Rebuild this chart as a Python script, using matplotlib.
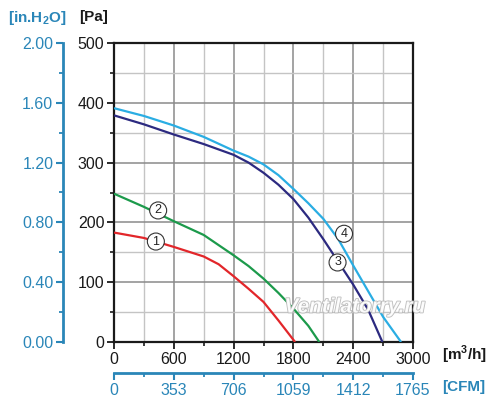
import matplotlib
matplotlib.use("Agg")
import matplotlib.pyplot as plt
import matplotlib.patheffects as pe
from matplotlib.ticker import MultipleLocator, FixedLocator

plt.rcParams['font.family'] = ['Liberation Sans', 'DejaVu Sans']
plt.rcParams['mathtext.fontset'] = 'custom'
plt.rcParams['mathtext.rm'] = 'Liberation Sans'
plt.rcParams['mathtext.bf'] = 'Liberation Sans:bold'

# fan curves: airflow [m3/h] vs static pressure [Pa]
flow_1 = [0, 300, 600, 900, 1050, 1200, 1350, 1500, 1650, 1817]
pres_1 = [183, 174, 159, 143, 130, 110, 89, 67, 36, 0]
flow_2 = [0, 300, 600, 900, 1200, 1350, 1500, 1650, 1800, 1950, 2060]
pres_2 = [248, 226, 202, 179, 145, 127, 106, 82, 56, 27, 0]
flow_3 = [0, 300, 600, 900, 1200, 1350, 1500, 1650, 1800, 1950, 2100, 2250, 2400, 2550, 2693]
pres_3 = [379, 364, 347, 331, 313, 300, 283, 263, 239, 208, 172, 134, 96, 54, 0]
flow_4 = [0, 300, 600, 900, 1200, 1350, 1500, 1650, 1800, 1950, 2100, 2250, 2400, 2550, 2700, 2880]
pres_4 = [391, 378, 362, 343, 320, 310, 297, 279, 256, 232, 206, 172, 128, 85, 42, 0]

curve_labels = ['1', '2', '3', '4']
label_flow = [420, 443, 2243, 2308]
label_pres = [168, 220, 133, 181]

cfm_ticks = [0, 353, 706, 1059, 1412, 1765]
inh2o_ticks = [0.0, 0.4, 0.8, 1.2, 1.6, 2.0]

BLUE = '#2a86b8'
colors = ['#e2262a', '#1c9a4b', '#2c2a80', '#2aade3']

fig = plt.figure(figsize=(5, 4.13), dpi=100)
ax = fig.add_axes([114 / 500, 71 / 413, 299 / 500, 299 / 413])

for fl, pr, c in zip([flow_1, flow_2, flow_3, flow_4],
                     [pres_1, pres_2, pres_3, pres_4], colors):
    ax.plot(fl, pr, color=c, lw=1.6, solid_capstyle='butt', solid_joinstyle='round', zorder=3)

for t, x, y in zip(curve_labels, label_flow, label_pres):
    ax.text(x, y, t, ha='center', va='center', fontsize=9, color='#222222', zorder=5,
            bbox=dict(boxstyle='circle,pad=0.2', fc='white', ec='#333333', lw=0.8))

ax.set_xlim(0, 3000)
ax.set_ylim(0, 500)
ax.xaxis.set_major_locator(MultipleLocator(600))
ax.xaxis.set_minor_locator(MultipleLocator(300))
ax.yaxis.set_major_locator(MultipleLocator(100))
ax.yaxis.set_minor_locator(MultipleLocator(50))
ax.grid(which='major', color='#8a8a8a', lw=1.1)
ax.grid(which='minor', color='#c4c4c4', lw=1.0)
ax.set_axisbelow(True)
for s in ax.spines.values():
    s.set_linewidth(1.6)
    s.set_color('#1a1a1a')
ax.tick_params(which='major', direction='out', length=5, width=1.3, labelsize=11.5,
               colors='#1a1a1a', pad=2)
ax.tick_params(which='minor', direction='out', length=3, width=1.2, colors='#1a1a1a')

# inches of water column on the left
ax_in = ax.secondary_yaxis(-51 / 299, functions=(lambda p: p / 250, lambda w: w * 250))
ax_in.set_yticks(inh2o_ticks)
ax_in.set_yticklabels([f'{v:.2f}' for v in inh2o_ticks])
ax_in.yaxis.set_minor_locator(MultipleLocator(0.2))
ax_in.spines['left'].set_color(BLUE)
ax_in.spines['left'].set_linewidth(2)
ax_in.tick_params(which='major', direction='out', length=5, width=1.5, colors=BLUE,
                  labelsize=11.5, pad=2)
ax_in.tick_params(which='minor', direction='out', length=3, width=1.3, colors=BLUE)

# CFM below
k = 1765 / 3000
ax_cfm = ax.secondary_xaxis(-31 / 299, functions=(lambda q: q * k, lambda c: c / k))
ax_cfm.xaxis.set_major_locator(FixedLocator([v * k for v in range(0, 3001, 600)]))
ax_cfm.set_xticklabels([str(v) for v in cfm_ticks])
ax_cfm.xaxis.set_minor_locator(FixedLocator([v * k for v in range(300, 3000, 600)]))
ax_cfm.spines['bottom'].set_color(BLUE)
ax_cfm.spines['bottom'].set_linewidth(2)
ax_cfm.tick_params(which='major', direction='out', length=5, width=1.5, colors=BLUE,
                   labelsize=11.5, pad=2)
ax_cfm.tick_params(which='minor', direction='out', length=3, width=1.3, colors=BLUE)

fig.text(8 / 500, 1 - 18 / 413, r'[in.H$_\mathbf{2}$O]', color=BLUE, fontsize=11,
         fontweight='bold', va='center', ha='left')
fig.text(79 / 500, 1 - 17 / 413, '[Pa]', color='#1a1a1a', fontsize=11,
         fontweight='bold', va='center', ha='left')
fig.text(442 / 500, 1 - 355 / 413, r'[m$^\mathbf{3}$/h]', color='#1a1a1a', fontsize=11,
         fontweight='bold', va='center', ha='left')
fig.text(442 / 500, 1 - 387 / 413, '[CFM]', color=BLUE, fontsize=11,
         fontweight='bold', va='center', ha='left')

# watermark
fig.text(355 / 500, 1 - 307 / 413, 'Ventilatorry.ru', fontsize=15, style='italic',
         fontweight='bold', color='white', ha='center', va='center', alpha=0.9,
         path_effects=[pe.withStroke(linewidth=1.2, foreground='#b5b5b5')])

fig.savefig('out.png', dpi=100)
